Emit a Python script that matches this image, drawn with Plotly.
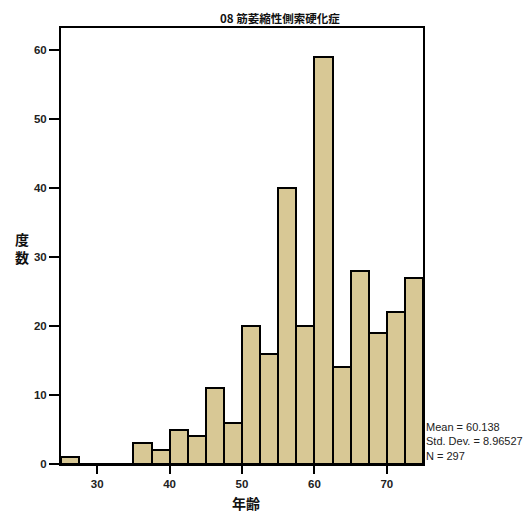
import plotly.graph_objects as go

# Histogram data (bin width 2.5 years)
bin_starts = [25.0, 27.5, 30.0, 32.5, 35.0, 37.5, 40.0, 42.5, 45.0, 47.5,
              50.0, 52.5, 55.0, 57.5, 60.0, 62.5, 65.0, 67.5, 70.0, 72.5]
counts = [1, 0, 0, 0, 3, 2, 5, 4, 11, 6,
          20, 16, 40, 20, 59, 14, 28, 19, 22, 27]
bin_width = 2.5
x_ticks = [30, 40, 50, 60, 70]
y_ticks = [0, 10, 20, 30, 40, 50, 60]
title_text = "08 筋萎縮性側索硬化症"
stats_lines = ["Mean = 60.138", "Std. Dev. = 8.96527", "N = 297"]
x_label = "年齢"
y_label = "度<br>数"

centers = [s + bin_width / 2 for s in bin_starts]

fig = go.Figure()
fig.add_trace(go.Bar(
    x=centers, y=counts, width=[bin_width] * len(counts),
    marker=dict(color="#d8c895", line=dict(color="black", width=2)),
    showlegend=False,
))

OFF = 8  # page body margin
W, H = 531 - OFF, 515 - OFF
# target plot area in page pixels: x 61..423, y 28..464
L, T = 61 - OFF, 28 - OFF
R = W - (423 - OFF)
B = H - (464 - OFF)
pw, ph = W - L - R, H - T - B

def px(xp):
    return (xp - OFF - L) / pw

def py(yp):
    return (H - B - (yp - OFF)) / ph

tickfont = dict(family="Liberation Sans, Arial", size=11.5, color="#222", weight="bold")

fig.update_layout(
    width=W, height=H,
    margin=dict(l=L, r=R, t=T, b=B),
    paper_bgcolor="white", plot_bgcolor="white",
    bargap=0,
    xaxis=dict(range=[25, 75], tickvals=x_ticks, ticks="outside", ticklen=8,
               tickwidth=2, tickcolor="black", showline=True, linecolor="black",
               linewidth=2, mirror=True, showgrid=False, zeroline=False,
               tickfont=tickfont),
    yaxis=dict(range=[0, 63.2], tickvals=y_ticks, ticks="outside", ticklen=10,
               tickwidth=2, tickcolor="black", showline=True, linecolor="black",
               linewidth=2, mirror=True, showgrid=False, zeroline=False,
               tickfont=tickfont),
)

cjk = "Noto Sans CJK JP"
fig.add_annotation(text=title_text, xref="paper", yref="paper",
                   x=px(280), y=py(17.5), xanchor="center", yanchor="middle",
                   showarrow=False,
                   font=dict(family=cjk, size=11.5, color="#111", weight="bold"))
fig.add_annotation(text=y_label, xref="paper", yref="paper",
                   x=px(22), y=py(248), xanchor="center", yanchor="middle",
                   showarrow=False,
                   font=dict(family=cjk, size=14, color="#111", weight="bold"))
fig.add_annotation(text=x_label, xref="paper", yref="paper",
                   x=px(246), y=py(503), xanchor="center", yanchor="middle",
                   showarrow=False,
                   font=dict(family=cjk, size=14, color="#111", weight="bold"))
fig.add_annotation(text="<br>".join(stats_lines), xref="paper", yref="paper",
                   x=px(424), y=py(441), xanchor="left", yanchor="middle",
                   align="left", showarrow=False,
                   font=dict(family="Liberation Sans, Arial", size=11, color="#222"))

fig.write_html("out.html")
